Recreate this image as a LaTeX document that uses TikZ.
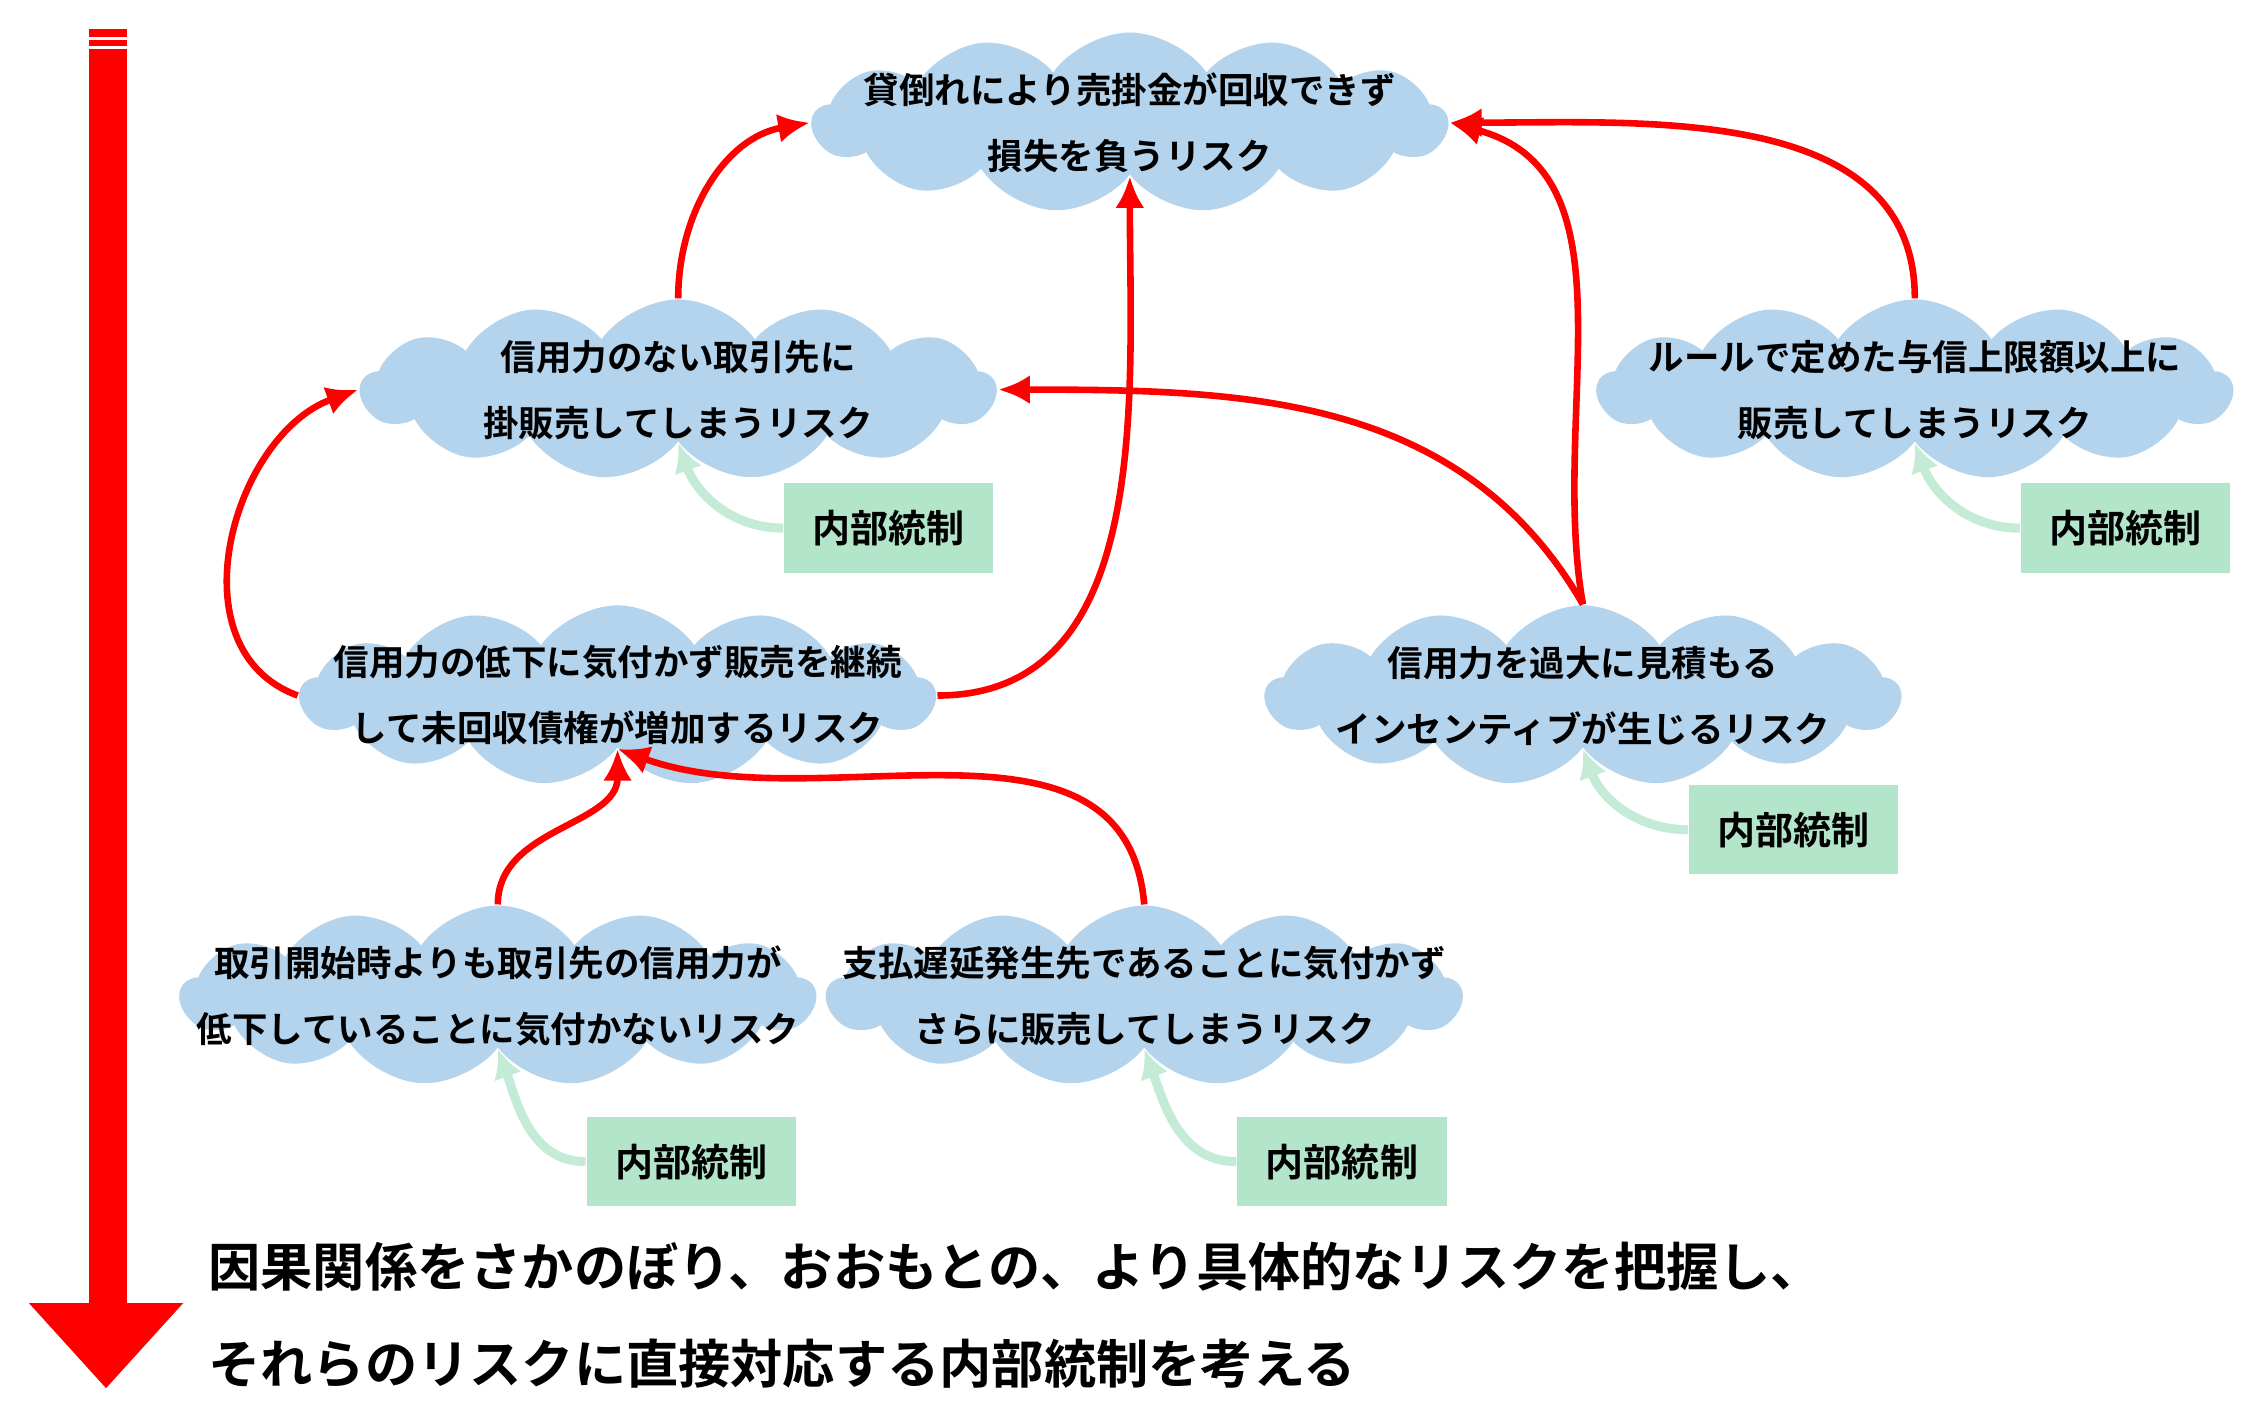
\documentclass[tikz,border=0pt]{standalone}
\usepackage{fontspec}
\setmainfont{Noto Sans CJK JP}[BoldFont={Noto Sans CJK JP Bold}]
\usepackage{tikz}
\usetikzlibrary{shapes,arrows.meta}
\definecolor{cloudblue}{HTML}{B4D3EC}
\definecolor{boxgreen}{HTML}{B3E5CB}
\definecolor{arrgreen}{HTML}{C4EBD6}
\tikzset{
  risk/.style={cloud, cloud puffs=13, cloud puff arc=110, fill=cloudblue,
    minimum width=4.4cm, minimum height=1.25cm, inner sep=0pt},
  risktext/.style={align=center, font=\bfseries\fontsize{7}{13}\selectfont},
  control/.style={fill=boxgreen, minimum width=1.45cm, minimum height=0.62cm,
    font=\bfseries\fontsize{7.5}{9}\selectfont},
  cause/.style={-{Latex[length=2.2mm,width=2mm]}, red, line width=1.3pt},
  guard/.style={-{Latex[length=2mm,width=2mm]}, arrgreen, line width=1.8pt},
}
\begin{document}
\begin{tikzpicture}
  \useasboundingbox (0,0) rectangle (15.6,-9.78);
  % big arrow
  \fill[red] (0.62,-0.2) rectangle (0.88,-9.05);
  \fill[red] (0.2,-9.03) -- (1.27,-9.03) -- (0.735,-9.62) -- cycle;
  \draw[white, line width=0.6pt] (0.62,-0.27) -- (0.88,-0.27) (0.62,-0.33) -- (0.88,-0.33);
  % risks
  \node[risk] (top) at (7.83,-0.85) {};
  \node[risk] (a) at (4.70,-2.70) {};
  \node[risk] (b) at (13.27,-2.70) {};
  \node[risk] (c) at (4.28,-4.82) {};
  \node[risk] (d) at (10.97,-4.82) {};
  \node[risk] (e) at (3.45,-6.90) {};
  \node[risk] (f) at (7.93,-6.90) {};
  \node[risktext] at (top) {貸倒れにより売掛金が回収できず\\損失を負うリスク};
  \node[risktext] at (a) {信用力のない取引先に\\掛販売してしまうリスク};
  \node[risktext] at (b) {ルールで定めた与信上限額以上に\\販売してしまうリスク};
  \node[risktext] at (c) {信用力の低下に気付かず販売を継続\\して未回収債権が増加するリスク};
  \node[risktext] at (d) {信用力を過大に見積もる\\インセンティブが生じるリスク};
  \node[risktext] at (e) {取引開始時よりも取引先の信用力が\\低下していることに気付かないリスク};
  \node[risktext] at (f) {支払遅延発生先であることに気付かず\\さらに販売してしまうリスク};
  % controls
  \node[control] (ka) at (6.16,-3.66) {内部統制};
  \node[control] (kb) at (14.73,-3.66) {内部統制};
  \node[control] (kd) at (12.43,-5.75) {内部統制};
  \node[control] (ke) at (4.79,-8.05) {内部統制};
  \node[control] (kf) at (9.30,-8.05) {内部統制};
  \draw[guard] (ka.west) to[out=180,in=-70] (a.south);
  \draw[guard] (kb.west) to[out=180,in=-70] (b.south);
  \draw[guard] (kd.west) to[out=180,in=-70] (d.south);
  \draw[guard] (ke.west) to[out=180,in=-70] (e.south);
  \draw[guard] (kf.west) to[out=180,in=-70] (f.south);
  % causes
  \draw[cause] (a.north) to[out=90,in=190] (top.west);
  \draw[cause] (c.east) to[out=0,in=-90] (top.south);
  \draw[cause] (c.west) to[out=160,in=200,looseness=1.1] (a.west);
  \draw[cause] (d.north) to[out=100,in=-15] (top.east);
  \draw[cause] (b.north) to[out=90,in=0] (top.east);
  \draw[cause] (d.north) to[out=120,in=0] (a.east);
  \draw[cause] (e.north) to[out=90,in=-90] (c.south);
  \draw[cause] (f.north) to[out=95,in=-20] (c.south);
  % message
  \node[anchor=west, font=\bfseries\fontsize{10.3}{12}\selectfont] (m1) at (1.32,-8.78) {因果関係をさかのぼり、おおもとの、より具体的なリスクを把握し、};
  \node[anchor=west, font=\bfseries\fontsize{10.3}{12}\selectfont] (m2) at (1.32,-9.45) {それらのリスクに直接対応する内部統制を考える};
\end{tikzpicture}
\end{document}
